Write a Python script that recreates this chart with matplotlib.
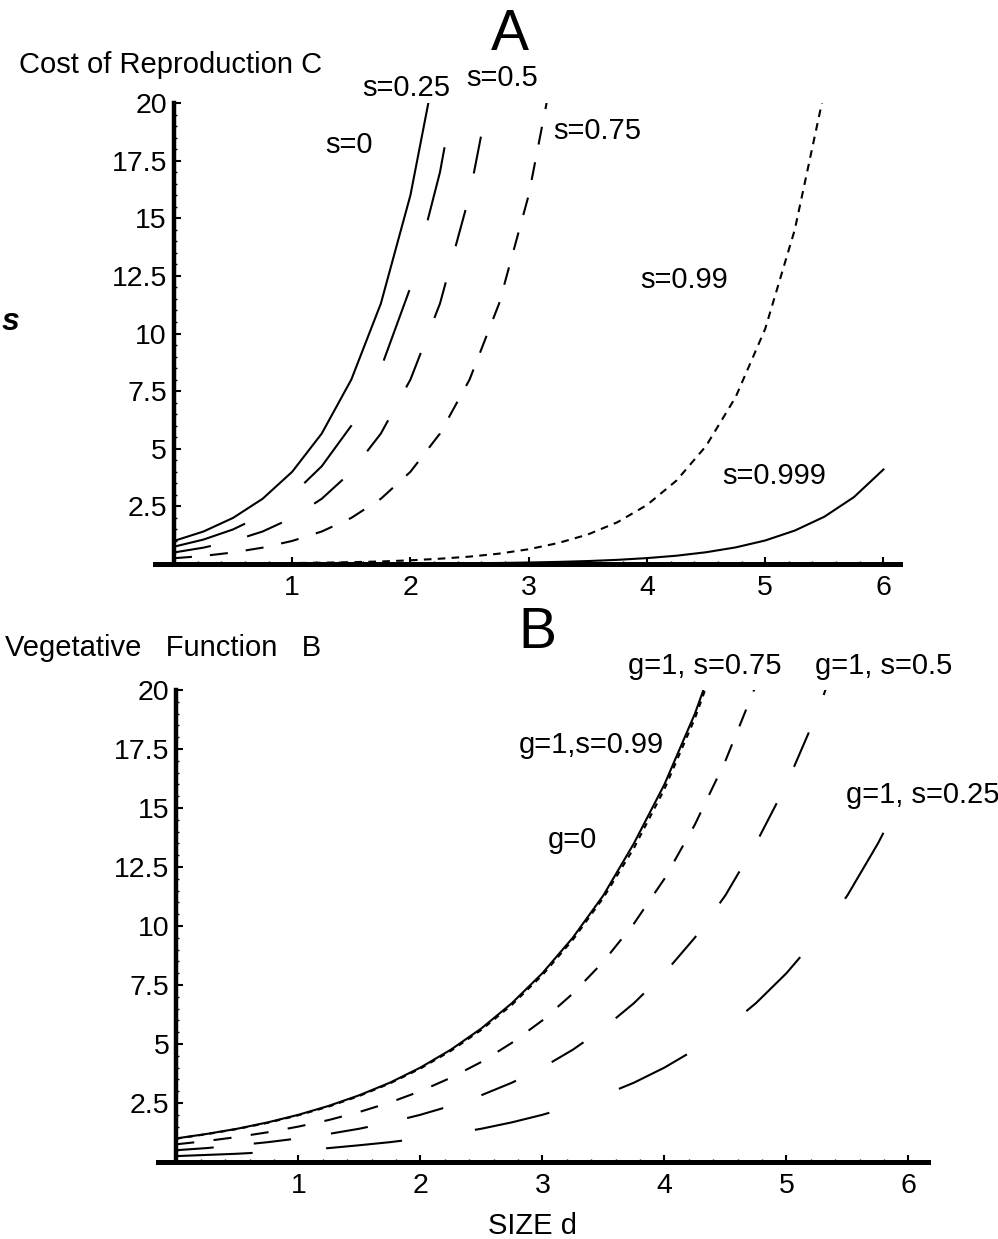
import numpy as np
import matplotlib
matplotlib.use("Agg")
import matplotlib.pyplot as plt
from matplotlib.ticker import MultipleLocator, FixedLocator

plt.rcParams['font.family'] = ['Liberation Sans', 'DejaVu Sans']
plt.rcParams['lines.scale_dashes'] = False

# sizes d, sampled every 0.25
size_d = [0.0, 0.25, 0.5, 0.75, 1.0, 1.25, 1.5, 1.75, 2.0, 2.25, 2.5, 2.75,
          3.0, 3.25, 3.5, 3.75, 4.0, 4.25, 4.5, 4.75, 5.0, 5.25, 5.5, 5.75, 6.0]

# Panel A: cost of reproduction C
costA_s0 = [1.0, 1.41, 2.0, 2.83, 4.0, 5.66, 8.0, 11.3, 16.0, 22.6]
costA_s025 = [0.75, 1.06, 1.5, 2.12, 3.0, 4.24, 6.0, 8.49, 12.0, 17.0, 24.0]
costA_s05 = [0.5, 0.71, 1.0, 1.41, 2.0, 2.83, 4.0, 5.66, 8.0, 11.3, 16.0, 22.6]
costA_s075 = [0.25, 0.35, 0.5, 0.71, 1.0, 1.41, 2.0, 2.83, 4.0, 5.66, 8.0,
              11.3, 16.0, 22.6]
costA_s099 = [0.01, 0.014, 0.02, 0.028, 0.04, 0.057, 0.08, 0.11, 0.16, 0.23,
              0.32, 0.45, 0.64, 0.91, 1.28, 1.81, 2.56, 3.62, 5.12, 7.24,
              10.2, 14.5, 20.5, 29.0]
costA_s0999 = [0.001, 0.001, 0.002, 0.003, 0.004, 0.006, 0.008, 0.011, 0.016,
               0.023, 0.032, 0.045, 0.064, 0.091, 0.128, 0.18, 0.256, 0.36,
               0.51, 0.72, 1.02, 1.45, 2.05, 2.9, 4.1]

# Panel B: vegetative function B
vegB_g0 = [1.0, 1.19, 1.41, 1.68, 2.0, 2.38, 2.83, 3.36, 4.0, 4.76, 5.66,
           6.73, 8.0, 9.51, 11.3, 13.5, 16.0, 19.0, 22.6]
vegB_s099 = [0.99, 1.18, 1.40, 1.66, 1.98, 2.35, 2.80, 3.33, 3.96, 4.71,
             5.60, 6.66, 7.92, 9.42, 11.2, 13.3, 15.8, 18.8, 22.4]
vegB_s075 = [0.75, 0.89, 1.06, 1.26, 1.5, 1.78, 2.12, 2.52, 3.0, 3.57, 4.24,
             5.05, 6.0, 7.14, 8.49, 10.1, 12.0, 14.3, 17.0, 20.2, 24.0]
vegB_s05 = [0.5, 0.59, 0.71, 0.84, 1.0, 1.19, 1.41, 1.68, 2.0, 2.38, 2.83,
            3.36, 4.0, 4.76, 5.66, 6.73, 8.0, 9.51, 11.3, 13.5, 16.0, 19.0,
            22.6]
vegB_s025 = [0.25, 0.30, 0.35, 0.42, 0.5, 0.59, 0.71, 0.84, 1.0, 1.19, 1.41,
             1.68, 2.0, 2.38, 2.83, 3.36, 4.0, 4.76, 5.66, 6.73, 8.0, 9.51,
             11.3, 13.5, 16.0]

xticks = [1, 2, 3, 4, 5, 6]
yticks = [2.5, 5, 7.5, 10, 12.5, 15, 17.5, 20]
ytick_labels = ['2.5', '5', '7.5', '10', '12.5', '15', '17.5', '20']

W, H = 998, 1239
fig = plt.figure(figsize=(W / 100, H / 100), dpi=100)


def rect(left, top, right, bottom):
    return [left / W, 1 - bottom / H, (right - left) / W, (bottom - top) / H]


def ftext(x, y, s, **kw):
    kw.setdefault('fontsize', 21)
    kw.setdefault('va', 'center')
    fig.text(x / W, 1 - y / H, s, **kw)


def styleAxes(ax, xlim):
    ax.set_xlim(*xlim)
    ax.set_ylim(0, 20)
    for side in ('top', 'right'):
        ax.spines[side].set_visible(False)
    ax.spines['left'].set_position(('data', 0))
    ax.spines['left'].set_bounds(0, 20)
    ax.spines['left'].set_linewidth(3.2)
    ax.spines['bottom'].set_linewidth(3.6)
    ax.xaxis.set_major_locator(FixedLocator(xticks))
    ax.set_yticks(yticks)
    ax.set_yticklabels(ytick_labels)
    ax.xaxis.set_minor_locator(MultipleLocator(0.2))
    ax.yaxis.set_minor_locator(MultipleLocator(0.5))
    ax.tick_params(which='major', direction='in', length=5, width=1.5,
                   labelsize=20.5)
    ax.tick_params(which='minor', direction='in', length=2.5, width=1)
    ax.tick_params(axis='x', which='major', pad=8)
    ax.tick_params(axis='y', which='major', pad=5)
    ax.patch.set_alpha(0)


lw = 1.5

# ---- Panel A
axA = fig.add_axes(rect(155, 103, 900, 564))
styleAxes(axA, (-0.16, 6.14))
seriesA = [
    (costA_s0, None),
    (costA_s025, (54, 52)),
    (costA_s05, (27, 27)),
    (costA_s075, (13, 13)),
    (costA_s099, (5.5, 4.5)),
    (costA_s0999, None),
]
for vals, dash in seriesA:
    line, = axA.plot(size_d[:len(vals)], vals, color='black', lw=lw)
    if dash is not None:
        line.set_dashes(dash)

# ---- Panel B
axB = fig.add_axes(rect(158, 690, 928, 1162))
styleAxes(axB, (-0.15, 6.16))
seriesB = [
    (vegB_g0, None),
    (vegB_s099, (4, 4)),
    (vegB_s075, (13, 14)),
    (vegB_s05, (27, 29)),
    (vegB_s025, (55, 53)),
]
for vals, dash in seriesB:
    line, = axB.plot(size_d[:len(vals)], vals, color='black', lw=lw)
    if dash is not None:
        line.set_dashes(dash)

# ---- texts
ftext(510, 35, 'A', fontsize=41, ha='center')
ftext(19, 65, 'Cost of Reproduction C')
ftext(362, 88, 's=0.25')
ftext(466, 78, 's=0.5')
ftext(325, 145, 's=0')
ftext(553, 131, 's=0.75')
ftext(640, 280, 's=0.99')
ftext(722, 476, 's=0.999')
ftext(2, 322, 's', fontweight='bold', fontstyle='italic', fontsize=23)

ftext(537, 633, 'B', fontsize=41, ha='center')
ftext(5, 648, 'Vegetative   Function   B')
ftext(628, 666, 'g=1, s=0.75')
ftext(815, 666, 'g=1, s=0.5')
ftext(519, 745, 'g=1,s=0.99')
ftext(548, 840, 'g=0')
ftext(846, 795, 'g=1, s=0.25')
ftext(532, 1226, 'SIZE d', ha='center')

fig.savefig('out.png', dpi=100)
